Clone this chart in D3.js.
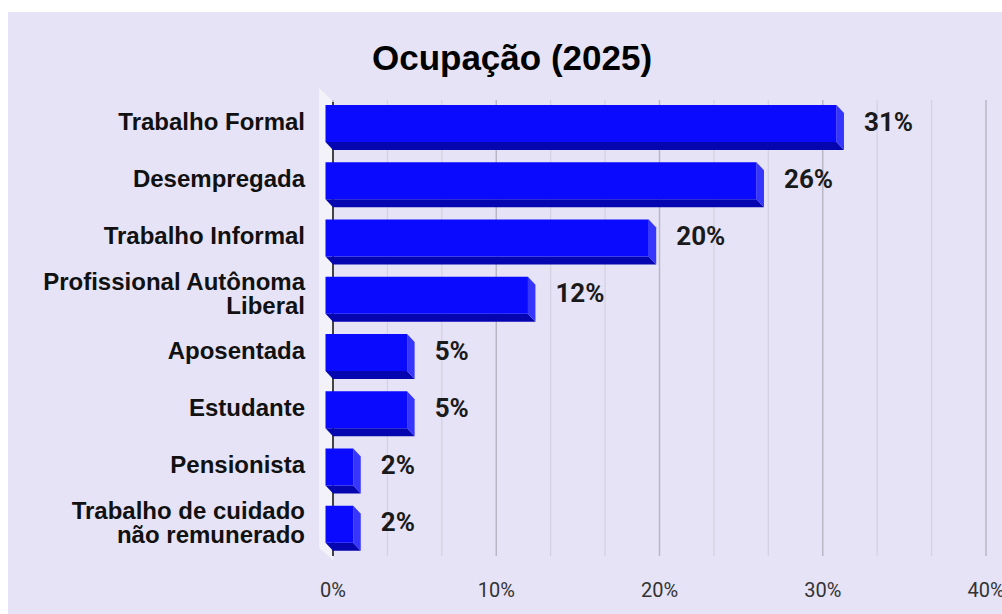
<!DOCTYPE html>
<html>
<head>
<meta charset="utf-8">
<script src="https://cdn.jsdelivr.net/npm/d3@7"></script>
<style>
  body { margin: 0; background: #fff; }
  svg { display: block; }
</style>
</head>
<body>
<script>
// chart data
var categories = ["Trabalho Formal", "Desempregada", "Trabalho Informal",
  "Profissional Autônoma\nLiberal", "Aposentada", "Estudante", "Pensionista",
  "Trabalho de cuidado\nnão remunerado"];
var values = [31.3, 26.4, 19.8, 12.4, 5.0, 5.0, 1.7, 1.7];
var tickValues = [0, 10, 20, 30, 40];
var gridValues = [0, 10/3, 20/3, 10, 40/3, 50/3, 20, 70/3, 80/3, 30, 100/3, 110/3, 40];
var title = "Ocupação (2025)";

var W = 1002, H = 614;
var dx = 7.5, dy = 8;   // depth of the 3d boxes

var svg = d3.select("body").append("svg")
    .attr("width", W)
    .attr("height", H);

// panel background
svg.append("rect")
    .attr("x", 8).attr("y", 12)
    .attr("width", W - 8).attr("height", H - 12)
    .attr("fill", "#e6e3f6");

var x = d3.scaleLinear().domain([0, 40]).range([333, 986]);
var y = d3.scaleBand().domain(categories).range([97, 555]);

var top0 = 100, bot0 = 556;

// left wall
svg.append("polygon")
    .attr("points", [[x(0) - 14, top0 - 12], [x(0), top0 + 1], [x(0), bot0 + 4], [x(0) - 14, bot0 - 8]].join(" "))
    .attr("fill", "#f3f2f8");

// grid lines
svg.append("g").selectAll("line")
    .data(gridValues)
  .enter().append("line")
    .attr("x1", function(d) { return x(d); })
    .attr("x2", function(d) { return x(d); })
    .attr("y1", top0)
    .attr("y2", bot0)
    .attr("stroke", function(d) { return Math.abs(d % 10) < 0.01 ? "#b9b7c6" : "#d3d0e0"; })
    .attr("stroke-width", function(d) { return Math.abs(d % 10) < 0.01 ? 1.5 : 1.2; });

// axis line at 0
svg.append("line")
    .attr("x1", x(0)).attr("x2", x(0))
    .attr("y1", top0 + 2).attr("y2", bot0)
    .attr("stroke", "#222")
    .attr("stroke-width", 1.6);

// bars as 3d boxes
var bars = svg.append("g").selectAll("g")
    .data(categories)
  .enter().append("g");

var frontH = 37;
function fTop(d) { return y(d) + 8; }

bars.append("polygon")  // bottom face
    .attr("points", function(d, i) {
      var t = fTop(d), b = t + frontH, x0 = x(0) - dx, x1 = x(values[i]) - dx;
      return [[x0, b], [x1, b], [x1 + dx, b + dy], [x0 + dx, b + dy]].join(" ");
    })
    .attr("fill", "#0606b0");

bars.append("polygon")  // right side face
    .attr("points", function(d, i) {
      var t = fTop(d), b = t + frontH, x1 = x(values[i]) - dx;
      return [[x1, t], [x1 + dx, t + dy], [x1 + dx, b + dy], [x1, b]].join(" ");
    })
    .attr("fill", "#3636ff");

bars.append("rect")  // front face
    .attr("x", x(0) - dx)
    .attr("y", function(d) { return fTop(d); })
    .attr("width", function(d, i) { return x(values[i]) - x(0); })
    .attr("height", frontH)
    .attr("fill", "#0a0aff");

// value labels
bars.append("text")
    .attr("x", function(d, i) { return x(values[i]) + 20; })
    .attr("y", function(d) { return fTop(d) + frontH / 2 - 2; })
    .attr("dy", "0.35em")
    .style("font-family", "Roboto, sans-serif")
    .style("font-weight", "bold")
    .style("font-size", "26px")
    .attr("fill", "#1a1a1a")
    .text(function(d, i) { return Math.round(values[i]) + "%"; });

// category labels
bars.append("text")
    .attr("text-anchor", "end")
    .style("font-family", "'Liberation Sans', Arial, sans-serif")
    .style("font-weight", "bold")
    .style("font-size", "24px")
    .attr("fill", "#111")
    .each(function(d) {
      var lines = d.split("\n");
      var cy = fTop(d) + frontH / 2 - 2;
      var lh = 24;
      var t = d3.select(this);
      lines.forEach(function(l, k) {
        t.append("tspan")
          .attr("x", 305)
          .attr("y", cy + (k - (lines.length - 1) / 2) * lh)
          .attr("dy", "0.35em")
          .text(l);
      });
    });

// x axis tick labels
svg.append("g").selectAll("text")
    .data(tickValues)
  .enter().append("text")
    .attr("x", function(d) { return x(d); })
    .attr("y", 590)
    .attr("dy", "0.35em")
    .attr("text-anchor", "middle")
    .style("font-family", "Roboto, sans-serif")
    .style("font-size", "20px")
    .attr("fill", "#333")
    .text(function(d) { return d + "%"; });

// title
svg.append("text")
    .attr("x", 512)
    .attr("y", 58)
    .attr("dy", "0.35em")
    .attr("text-anchor", "middle")
    .style("font-family", "'Liberation Sans', Arial, sans-serif")
    .style("font-weight", "bold")
    .style("font-size", "35px")
    .attr("fill", "#000")
    .text(title);
</script>
</body>
</html>
